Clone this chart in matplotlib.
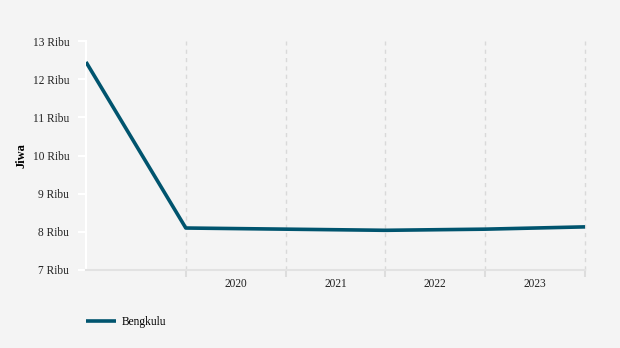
import numpy as np
import matplotlib.pyplot as plt

plt.rcParams['font.family'] = ['Liberation Serif', 'DejaVu Serif']

# data penduduk (ribu jiwa)
x_pos = [0, 1, 2, 3, 4, 5]
values = [12.45, 8.10, 8.07, 8.04, 8.07, 8.13]
year_labels = ['2020', '2021', '2022', '2023']
year_pos = [1.5, 2.5, 3.5, 4.5]
yticks = [7, 8, 9, 10, 11, 12, 13]

bg = '#f4f4f4'
line_color = '#00546e'

fig = plt.figure(figsize=(6.2, 3.48), dpi=100, facecolor=bg)
ax = fig.add_axes([86 / 620, 1 - 270 / 348, (585 - 86) / 620, (270 - 41) / 348])
ax.set_facecolor(bg)

ax.plot(x_pos, values, color=line_color, lw=2.6, solid_capstyle='butt', label='Bengkulu', zorder=3)

ax.set_xlim(0, 5)
ax.set_ylim(7, 13)

# garis grid vertikal putus-putus
for xv in x_pos[1:]:
    ax.axvline(xv, color='#d9d9d9', lw=1, ls=(0, (3, 3)), zorder=1, clip_on=False)

ax.set_yticks(yticks)
ax.set_yticklabels(['%d Ribu' % v for v in yticks], fontsize=8.3, color='#222222')
ax.set_xticks(x_pos[1:])
ax.set_xticklabels([])
ax.set_xticks(year_pos, minor=True)
ax.set_xticklabels(year_labels, minor=True, fontsize=8.3, color='#222222')
ax.tick_params(axis='x', which='minor', length=0, pad=6)
ax.tick_params(axis='x', which='major', length=5, color='#dddddd', width=1.5)
ax.tick_params(axis='y', length=6, color='white', width=1.5, pad=6)

for s in ['top', 'right']:
    ax.spines[s].set_visible(False)
ax.spines['left'].set_color('white')
ax.spines['left'].set_linewidth(1.5)
ax.spines['bottom'].set_color('#e2e2e2')
ax.spines['bottom'].set_linewidth(1.5)

ax.set_ylabel('Jiwa', fontsize=9, fontweight='bold', labelpad=4)

fig.legend(loc='lower left', bbox_to_anchor=(76 / 620, 10 / 348), frameon=False,
           fontsize=8.3, handlelength=2.6, handletextpad=0.5)

fig.savefig('out.png', dpi=100, facecolor=bg)
